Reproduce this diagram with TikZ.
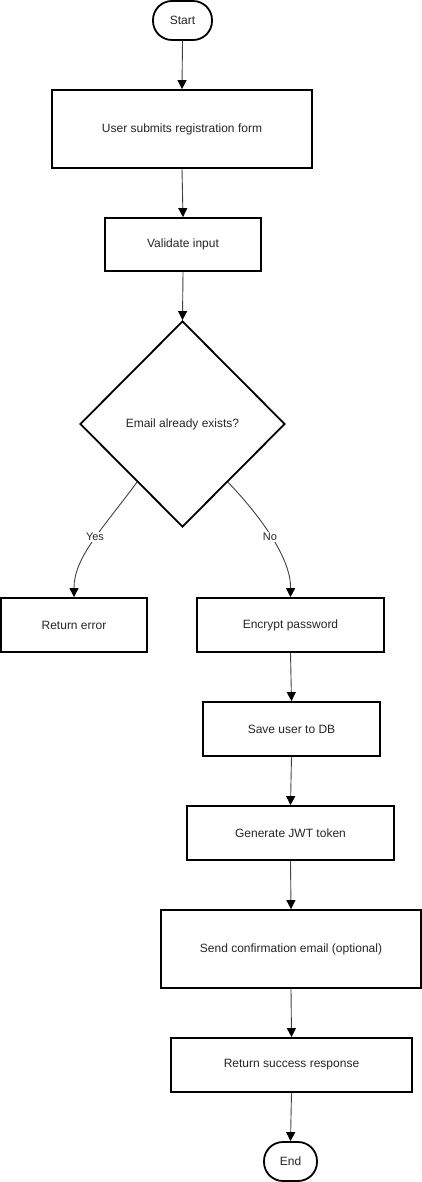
\documentclass[tikz,border=0pt]{standalone}
\usepackage{fontspec}
\setmainfont{Liberation Sans}
\usetikzlibrary{shapes.geometric,arrows.meta,calc}
\tikzset{
  base/.style={draw=black, line width=1.8pt, fill=white, inner sep=0pt, font=\fontsize{12}{14}\selectfont, text=black!85},
  box/.style={base, rectangle},
  term/.style={base, rectangle, rounded corners=19pt},
  decision/.style={base, diamond, aspect=1},
  flow/.style={draw=black!75, line width=0.9pt, -{Triangle[length=9pt,width=9pt,color=black]}},
  lbl/.style={fill=white, inner sep=1pt, font=\fontsize{11}{13}\selectfont, text=black!85}
}
\begin{document}
\begin{tikzpicture}[x=1pt,y=-1pt]
\useasboundingbox (0,0) rectangle (422,1182);
\node[term, minimum width=59pt, minimum height=39pt] (start) at (182.5,20.5) {Start};
\node[box, minimum width=260pt, minimum height=78pt] (form) at (182,129) {User submits registration form};
\node[box, minimum width=156pt, minimum height=53pt] (valid) at (183,244.5) {Validate input};
\node[decision, minimum width=205pt, minimum height=206pt] (exists) at (182.5,424) {Email already exists?};
\node[box, minimum width=146pt, minimum height=54pt] (err) at (74,625) {Return error};
\node[box, minimum width=187pt, minimum height=54pt] (enc) at (290.5,625) {Encrypt password};
\node[box, minimum width=177pt, minimum height=54pt] (save) at (291.5,729) {Save user to DB};
\node[box, minimum width=207pt, minimum height=54pt] (jwt) at (290.5,833) {Generate JWT token};
\node[box, minimum width=260pt, minimum height=78pt] (mail) at (291,949) {Send confirmation email (optional)};
\node[box, minimum width=241pt, minimum height=54pt] (succ) at (291.5,1065) {Return success response};
\node[term, minimum width=53pt, minimum height=39pt] (end) at (290.5,1161.5) {End};

\draw[flow] (start.south) -- (form.north);
\draw[flow] (form.south) -- (valid.north);
\draw[flow] (valid.south) -- (exists.north);
\coordinate (yesA) at ($(exists.west)!0.56!(exists.south)$);
\coordinate (noA) at ($(exists.south)!0.44!(exists.east)$);
\draw[flow] (yesA) .. controls (100,532) and (74,558) .. (err.north);
\draw[flow] (noA) .. controls (264,520) and (291,560) .. (enc.north);
\node[lbl] (yes) at (95,537) {Yes};
\node[lbl] (no) at (270,537) {No};
\draw[flow] (enc.south) -- (save.north);
\draw[flow] (save.south) -- (jwt.north);
\draw[flow] (jwt.south) -- (mail.north);
\draw[flow] (mail.south) -- (succ.north);
\draw[flow] (succ.south) -- (end.north);
\end{tikzpicture}
\end{document}
